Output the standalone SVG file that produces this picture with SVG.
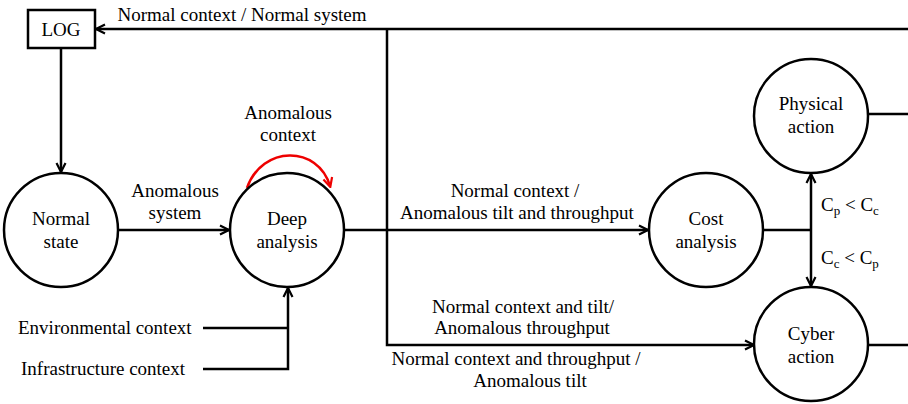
<svg xmlns="http://www.w3.org/2000/svg" width="908" height="404" viewBox="0 0 908 404">
<style>
text{font-family:"Liberation Serif","Times New Roman",serif;font-size:19px;fill:#000}
.c{text-anchor:middle}
.n{fill:#fff;stroke:#000;stroke-width:2.5}
.l{fill:none;stroke:#000;stroke-width:2.5}
.s{font-size:13px}
</style>
<defs>
<marker id="a" viewBox="0 0 12 12" refX="11" refY="6" markerWidth="12" markerHeight="12" markerUnits="userSpaceOnUse" orient="auto">
<polyline points="2,1.5 11,6 2,10.5" fill="none" stroke="#000" stroke-width="2.2"/>
</marker>
<marker id="r" viewBox="0 0 12 12" refX="10" refY="6" markerWidth="12" markerHeight="12" markerUnits="userSpaceOnUse" orient="auto">
<polyline points="2,1.5 11,6 2,10.5" fill="none" stroke="#e00" stroke-width="2.2"/>
</marker>
</defs>
<g id="connectors">
<path class="l" d="M908,29 H96" marker-end="url(#a)"/>
<path class="l" d="M387,29 V345 H754" marker-end="url(#a)"/>
<path class="l" d="M61,48 V172" marker-end="url(#a)"/>
<path class="l" d="M118,230 H229" marker-end="url(#a)"/>
<path class="l" d="M344,230 H648" marker-end="url(#a)"/>
<path class="l" d="M763,230 H811"/>
<path class="l" d="M811,230 V174" marker-end="url(#a)"/>
<path class="l" d="M811,230 V286" marker-end="url(#a)"/>
<path class="l" d="M868,114 H908"/>
<path class="l" d="M868,345 H908"/>
<path class="l" d="M203,328 H288"/>
<path class="l" d="M203,369 H288 V288" marker-end="url(#a)"/>
<path d="M247,188 C262,145 318,145 330,186" fill="none" stroke="#e00" stroke-width="2.5" marker-end="url(#r)"/>
<text class="c" x="242" y="21">Normal context / Normal system</text>
<text class="c" x="175" y="197">Anomalous</text>
<text class="c" x="175" y="219">system</text>
<text class="c" x="288" y="119">Anomalous</text>
<text class="c" x="288" y="141">context</text>
<text class="c" x="515" y="197">Normal context /</text>
<text class="c" x="517" y="219">Anomalous tilt and throughput</text>
<text class="c" x="523" y="313">Normal context and tilt/</text>
<text class="c" x="522" y="334">Anomalous throughput</text>
<text class="c" x="516" y="365">Normal context and throughput /</text>
<text class="c" x="530" y="387">Anomalous tilt</text>
<text x="18" y="334">Environmental context</text>
<text x="21" y="375">Infrastructure context</text>
<text x="821" y="211">C<tspan class="s" dy="4">p</tspan><tspan dy="-4"> &lt; C</tspan><tspan class="s" dy="4">c</tspan></text>
<text x="821" y="264">C<tspan class="s" dy="4">c</tspan><tspan dy="-4"> &lt; C</tspan><tspan class="s" dy="4">p</tspan></text>
</g>
<g id="log">
<rect class="n" x="28" y="10" width="67" height="38"/>
<text class="c" x="61" y="36">LOG</text>
</g>
<g id="normal-state">
<circle class="n" cx="61" cy="230" r="57"/>
<text class="c" x="61" y="225">Normal</text>
<text class="c" x="61" y="248">state</text>
</g>
<g id="deep-analysis">
<circle class="n" cx="287" cy="230" r="57"/>
<text class="c" x="287" y="225">Deep</text>
<text class="c" x="287" y="248">analysis</text>
</g>
<g id="cost-analysis">
<circle class="n" cx="706" cy="230" r="57"/>
<text class="c" x="706" y="225">Cost</text>
<text class="c" x="706" y="248">analysis</text>
</g>
<g id="physical-action">
<circle class="n" cx="811" cy="116" r="57"/>
<text class="c" x="811" y="110">Physical</text>
<text class="c" x="811" y="133">action</text>
</g>
<g id="cyber-action">
<circle class="n" cx="811" cy="344" r="57"/>
<text class="c" x="811" y="340">Cyber</text>
<text class="c" x="811" y="363">action</text>
</g>
</svg>
